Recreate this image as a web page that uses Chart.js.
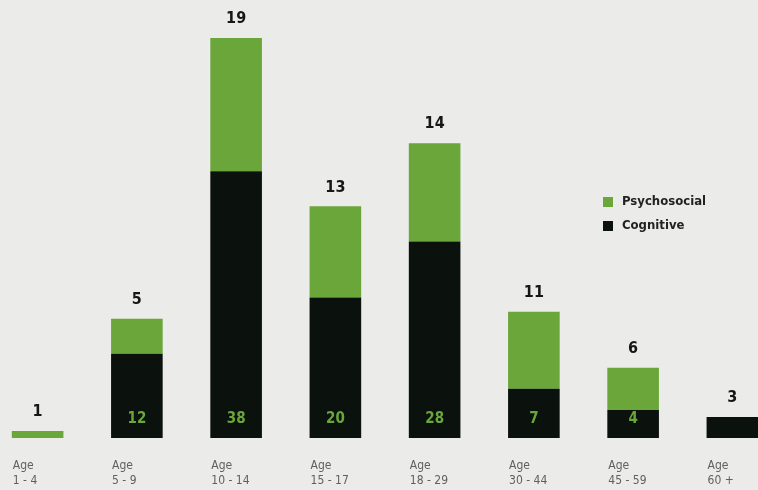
<!DOCTYPE html>
<html>
<head>
<meta charset="utf-8">
<script src="https://cdn.jsdelivr.net/npm/chart.js@4/dist/chart.umd.min.js"></script>
<style>
  html, body { margin: 0; padding: 0; overflow: hidden; background: #ebebea; }
  body { width: 758px; height: 490px; position: relative; }
  #wrap { position: absolute; left: -12px; top: 0; width: 794px; height: 490px; }
</style>
</head>
<body>
<div id="wrap"><canvas id="chart" width="794" height="490"></canvas></div>
<script>
const ageGroups = ['1 - 4', '5 - 9', '10 - 14', '15 - 17', '18 - 29', '30 - 44', '45 - 59', '60 +'];
const cognitive = [0, 12, 38, 20, 28, 7, 4, 3];
const psychosocial = [1, 5, 19, 13, 14, 11, 6, 0];

const GREEN = '#6aa63a';
const DARK = '#0b120e';
const FONT = '"DejaVu Sans Condensed", "Liberation Sans Narrow", "DejaVu Sans", sans-serif';

// value labels, age labels and legend drawn on top of the bars
const labelPlugin = {
  id: 'labels',
  afterDatasetsDraw(chart) {
    const ctx = chart.ctx;
    const x = chart.scales.x;
    const y = chart.scales.y;
    const barW = chart.getDatasetMeta(0).data[0].width;
    ctx.save();
    ageGroups.forEach((g, i) => {
      const cx = x.getPixelForValue(i);
      const total = cognitive[i] + psychosocial[i];
      // top label
      const topVal = psychosocial[i] > 0 ? psychosocial[i] : cognitive[i];
      ctx.fillStyle = '#161616';
      ctx.font = 'bold 16px ' + FONT;
      ctx.textAlign = 'center';
      ctx.textBaseline = 'middle';
      ctx.fillText(String(topVal), cx, y.getPixelForValue(total) - 19);
      // inner label
      if (cognitive[i] > 0 && psychosocial[i] > 0) {
        ctx.fillStyle = GREEN;
        ctx.font = 'bold 15px ' + FONT;
        ctx.fillText(String(cognitive[i]), cx, y.getPixelForValue(0) - 19);
      }
      // category label
      ctx.fillStyle = '#606060';
      ctx.font = '12px ' + FONT;
      ctx.textAlign = 'left';
      ctx.fillText('Age', cx - barW / 2 + 1, 466);
      ctx.fillText(g, cx - barW / 2 + 1, 481);
    });
    // legend
    const items = [['Psychosocial', GREEN], ['Cognitive', DARK]];
    items.forEach(([name, col], k) => {
      const ly = 202 + k * 24;
      ctx.fillStyle = col;
      ctx.fillRect(615, ly - 5, 10, 10);
      ctx.fillStyle = '#222';
      ctx.font = 'bold 13px ' + FONT;
      ctx.textAlign = 'left';
      ctx.fillText(name, 634, ly);
    });
    ctx.restore();
  }
};

new Chart(document.getElementById('chart'), {
  type: 'bar',
  data: {
    labels: ageGroups,
    datasets: [
      { label: 'Cognitive', data: cognitive, backgroundColor: DARK },
      { label: 'Psychosocial', data: psychosocial, backgroundColor: GREEN }
    ]
  },
  options: {
    responsive: false,
    animation: false,
    layout: { padding: { top: 0, bottom: 52, left: 0, right: 0 } },
    datasets: { bar: { categoryPercentage: 1, barPercentage: 0.52 } },
    plugins: { legend: { display: false }, tooltip: { enabled: false } },
    scales: {
      x: { stacked: true, display: false },
      y: { stacked: true, display: false, min: 0, max: 62.4 }
    }
  },
  plugins: [labelPlugin]
});
</script>
</body>
</html>
